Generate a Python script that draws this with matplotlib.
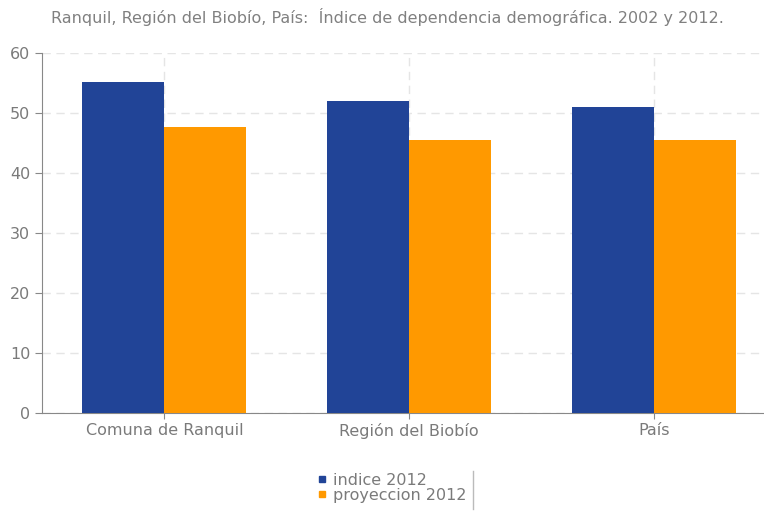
import matplotlib
matplotlib.use("Agg")
import matplotlib.pyplot as plt
from matplotlib.lines import Line2D
import numpy as np

categories = ["Comuna de Ranquil", "Región del Biobío", "País"]
indice_2012 = [55.2, 52.0, 51.0]
proyeccion_2012 = [47.7, 45.5, 45.5]
series_names = ["indice 2012", "proyeccion 2012"]
title = "Ranquil, Región del Biobío, País:  Índice de dependencia demográfica. 2002 y 2012."

colors = ["#214497", "#FF9900"]

plt.rcParams['font.family'] = ['DejaVu Sans']
fig = plt.figure(figsize=(7.64, 5.12), dpi=100)
ax = fig.add_axes([42/764, (512-413)/512, 734/764, 360/512])

x = np.arange(len(categories))
w = 0.335
ax.bar(x - w/2, indice_2012, w, color=colors[0], zorder=3)
ax.bar(x + w/2, proyeccion_2012, w, color=colors[1], zorder=3)

ax.set_xlim(-0.5, 2.5)
ax.set_ylim(0, 60)
ax.set_yticks(range(0, 61, 10))
ax.set_xticks(x)
ax.set_xticklabels(categories)
ax.tick_params(axis='both', colors="#888888", labelcolor="#7a7a7a", labelsize=11.5, length=5)
ax.tick_params(axis='x', length=8, direction='inout')
ax.grid(True, axis='both', color="#e5e5e5", linestyle=(0, (6, 4)), linewidth=1, zorder=0)
for s in ['top', 'right']:
    ax.spines[s].set_visible(False)
for s in ['left', 'bottom']:
    ax.spines[s].set_color("#888888")

fig.text(387/764, 1 - 17/512, title, ha='center', va='center', color="#808080", fontsize=11.5)

handles = [Line2D([], [], linestyle='none', marker='s', markersize=4.5, color=c) for c in colors]
leg = fig.legend(handles=handles, labels=series_names, loc='center', bbox_to_anchor=(392/764, 1 - 488/512),
                 frameon=False, fontsize=11.5, handlelength=0.6, handletextpad=0.4,
                 labelspacing=0.0, borderpad=0.2)
for t in leg.get_texts():
    t.set_color("#7a7a7a")

# partial legend border (right side)
fig.add_artist(Line2D([473/764, 473/764], [1 - 471/512, 1 - 509/512], color="#bbbbbb", linewidth=1))

fig.savefig("out.png", dpi=100)
